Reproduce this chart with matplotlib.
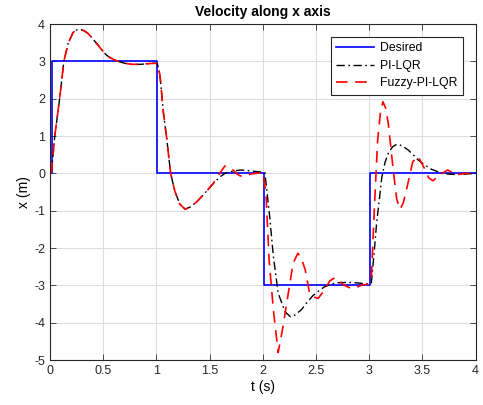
import matplotlib
matplotlib.use('Agg')
import matplotlib.pyplot as plt

# desired velocity (step profile)
t_des = [0.0, 0.015, 0.015, 1.005, 1.005, 2.01, 2.01, 3.007, 3.007, 4.0]
v_des = [0.0, 0.0, 3.0, 3.0, 0.0, 0.0, -3.0, -3.0, 0.0, 0.0]

# PI-LQR response
t_pi = [0.0, 0.015, 0.044, 0.09, 0.13, 0.17, 0.216, 0.25, 0.28, 0.32, 0.357,
        0.40, 0.45, 0.50, 0.53, 0.57, 0.63, 0.70, 0.77, 0.85, 0.93, 0.99,
        1.01, 1.034, 1.065, 1.097, 1.134, 1.175, 1.22, 1.27, 1.32, 1.38,
        1.45, 1.535, 1.60, 1.645, 1.72, 1.79, 1.87, 1.94, 2.00, 2.02, 2.04,
        2.065, 2.10, 2.145, 2.21, 2.26, 2.30, 2.36, 2.41, 2.47, 2.53, 2.58,
        2.65, 2.71, 2.80, 2.87, 2.95, 3.00, 3.02, 3.045, 3.07, 3.12, 3.15,
        3.18, 3.22, 3.26, 3.31, 3.37, 3.42, 3.46, 3.52, 3.585, 3.66, 3.74,
        3.82, 3.90, 4.0]
v_pi = [0.0, 0.05, 0.98, 1.99, 2.99, 3.48, 3.77, 3.84, 3.86, 3.82, 3.75,
        3.61, 3.44, 3.26, 3.17, 3.09, 3.01, 2.95, 2.92, 2.92, 2.94, 2.95,
        2.93, 2.63, 1.65, 0.94, 0.0, -0.49, -0.82, -0.96, -0.90, -0.76,
        -0.55, -0.27, -0.09, 0.0, 0.06, 0.09, 0.07, 0.05, 0.03, 0.02, -0.5,
        -1.16, -2.23, -3.21, -3.71, -3.84, -3.80, -3.66, -3.48, -3.28, -3.14,
        -3.04, -2.96, -2.93, -2.92, -2.93, -2.95, -2.96, -2.95, -2.2, -1.34,
        -0.09, 0.3, 0.54, 0.71, 0.78, 0.74, 0.62, 0.48, 0.36, 0.23, 0.11,
        0.03, -0.02, -0.03, -0.02, 0.0]

# Fuzzy-PI-LQR response
t_fz = [0.0, 0.015, 0.044, 0.09, 0.13, 0.17, 0.216, 0.25, 0.28, 0.32, 0.357,
        0.40, 0.45, 0.50, 0.53, 0.57, 0.63, 0.70, 0.77, 0.85, 0.93, 0.99,
        1.01, 1.034, 1.065, 1.097, 1.134, 1.175, 1.22, 1.27, 1.32, 1.38,
        1.45, 1.535, 1.57, 1.60, 1.645, 1.68, 1.72, 1.76, 1.79, 1.85, 1.90,
        1.94, 2.00, 2.03, 2.06, 2.10, 2.145, 2.19, 2.24, 2.285, 2.33, 2.36,
        2.40, 2.44, 2.47, 2.52, 2.58, 2.63, 2.68, 2.72, 2.76, 2.83, 2.88,
        2.93, 2.99, 3.02, 3.05, 3.08, 3.105, 3.13, 3.155, 3.18, 3.23, 3.26,
        3.29, 3.32, 3.35, 3.41, 3.46, 3.52, 3.56, 3.60, 3.66, 3.74, 3.82,
        3.90, 4.0]
v_fz = [0.0, 0.05, 0.98, 1.99, 2.99, 3.48, 3.77, 3.84, 3.86, 3.82, 3.75,
        3.61, 3.44, 3.26, 3.17, 3.09, 3.01, 2.95, 2.92, 2.92, 2.94, 2.95,
        2.93, 2.63, 1.65, 0.94, 0.0, -0.49, -0.82, -0.96, -0.90, -0.76,
        -0.55, -0.27, -0.12, 0.02, 0.2, 0.17, 0.09, -0.02, -0.07, -0.05,
        -0.01, 0.0, 0.03, -0.54, -2.32, -3.66, -4.80, -4.11, -3.21, -2.41,
        -2.14, -2.25, -2.59, -3.21, -3.30, -3.35, -3.13, -2.88, -2.79, -2.87,
        -2.99, -3.08, -3.06, -2.99, -2.97, -2.86, -0.89, 0.89, 1.6, 1.92,
        1.75, 1.34, 0.0, -0.7, -0.96, -0.8, -0.45, 0.31, 0.46, 0.13, -0.12,
        -0.20, -0.04, 0.09, -0.04, 0.0, 0.0]

plt.rcParams['font.family'] = ['Liberation Sans', 'DejaVu Sans']
plt.rcParams['axes.unicode_minus'] = False

fig = plt.figure(figsize=(4.83, 4.05), dpi=100)
ax = fig.add_axes([0.1035, 0.111, 0.881, 0.8297])

ax.plot(t_des, v_des, color='#0000ff', lw=1.2, label='Desired')
ax.plot(t_pi, v_pi, color='black', lw=1.0, linestyle=(0, (6, 2.5, 1.2, 2.5)), label='PI-LQR')
ax.plot(t_fz, v_fz, color='#ff0000', lw=1.2, linestyle=(0, (7, 4.5)), label='Fuzzy-PI-LQR')

ax.set_xlim(0, 4)
ax.set_ylim(-5, 4)
ax.set_xticks([0, 0.5, 1, 1.5, 2, 2.5, 3, 3.5, 4])
ax.set_xticklabels(['0', '0.5', '1', '1.5', '2', '2.5', '3', '3.5', '4'])
ax.set_yticks(range(-5, 5))
ax.grid(True, color='#dddddd', lw=0.8)
ax.set_axisbelow(True)
ax.tick_params(direction='in', top=True, right=True, labelsize=9, length=4, width=0.6,
               color='#333333', labelcolor='#262626')
for s in ax.spines.values():
    s.set_linewidth(0.8)
    s.set_color('#262626')

ax.set_title('Velocity along x axis', fontsize=10, fontweight='bold', pad=6)
ax.set_xlabel('t (s)', fontsize=10, labelpad=2)
ax.set_ylabel('x (m)', fontsize=10, labelpad=2)

leg = ax.legend(loc='upper right', bbox_to_anchor=(0.971, 0.962), borderaxespad=0,
                fontsize=8.8, fancybox=False, framealpha=1, edgecolor='#262626',
                handlelength=3.1, labelspacing=0.45, borderpad=0.45, handletextpad=0.5)
leg.get_frame().set_linewidth(0.8)

fig.savefig('out.png', dpi=100)
